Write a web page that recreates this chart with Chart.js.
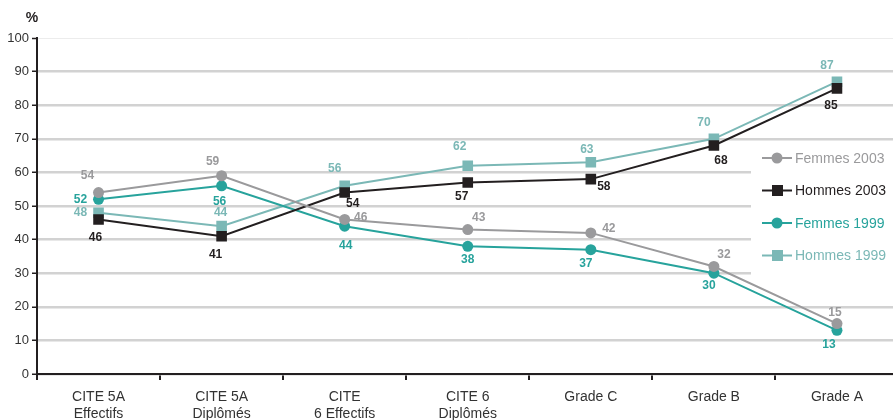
<!DOCTYPE html>
<html>
<head>
<meta charset="utf-8">
<script src="https://cdn.jsdelivr.net/npm/chart.js@4.4.1/dist/chart.umd.min.js"></script>
<style>
  html, body { margin: 0; padding: 0; background: #fff; overflow: hidden; }
  #wrap { width: 893px; height: 420px; overflow: hidden; position: relative; }
  canvas { display: block; }
</style>
</head>
<body>
<div id="wrap"><canvas id="chart" width="906" height="420"></canvas></div>
<script>
// categories and series values
const categories = [
    ["CITE 5A", "Effectifs"],
    ["CITE 5A", "Diplômés"],
    ["CITE", "6 Effectifs"],
    ["CITE 6", "Diplômés"],
    "Grade C",
    "Grade B",
    "Grade A"
];
const femmes2003 = [54, 59, 46, 43, 42, 32, 15];
const hommes2003 = [46, 41, 54, 57, 58, 68, 85];
const femmes1999 = [52, 56, 44, 38, 37, 30, 13];
const hommes1999 = [48, 44, 56, 62, 63, 70, 87];
const yTicks = [0, 10, 20, 30, 40, 50, 60, 70, 80, 90, 100];

// where each value label sits relative to its point [dx, dy]
const labelOffsets = [
    [[-11, -17], [-9, -14], [16, -2], [11, -12], [18, -4], [10, -12], [-2, -11]],
    [[-3, 18], [-6, 18], [8, 11], [-6, 14], [13, 8], [7, 15], [-6, 17]],
    [[-18, 0], [-2, 16], [1, 20], [0, 13], [-5, 14], [-5, 12], [-8, 14]],
    [[-18, 0], [-1, -13], [-10, -17], [-8, -19], [-4, -13], [-10, -16], [-10, -16]]
];

const colors = ["#9a9a9c", "#231f20", "#27a39c", "#7bb8b6"];
const FONT = "'Liberation Sans', Arial, sans-serif";

function makeSet(label, data, color, style) {
    return {
        label: label,
        data: data,
        borderColor: color,
        backgroundColor: color,
        borderWidth: 2,
        pointStyle: style,
        pointRadius: style === "rect" ? 7.5 : 5.5,
        pointHoverRadius: style === "rect" ? 7.5 : 5.5,
        pointBorderWidth: 0,
        tension: 0
    };
}

const valueLabels = {
    id: "valueLabels",
    afterDatasetsDraw(chart) {
        const ctx = chart.ctx;
        ctx.save();
        ctx.font = "bold 12px " + FONT;
        ctx.textAlign = "center";
        ctx.textBaseline = "middle";
        chart.data.datasets.forEach((ds, di) => {
            const meta = chart.getDatasetMeta(di);
            meta.data.forEach((pt, i) => {
                const off = labelOffsets[di][i];
                ctx.fillStyle = ds.borderColor;
                ctx.fillText(String(ds.data[i]), pt.x + off[0], pt.y + off[1]);
            });
        });
        ctx.restore();
    }
};

const extras = {
    id: "extras",
    afterDraw(chart) {
        const ctx = chart.ctx;
        ctx.save();
        // unit label
        ctx.font = "bold 14px " + FONT;
        ctx.fillStyle = "#231f20";
        ctx.textAlign = "center";
        ctx.textBaseline = "middle";
        ctx.fillText("%", 32, 18);

        // legend box
        ctx.fillStyle = "#fff";
        ctx.fillRect(751, 143, 160, 132);
        ctx.font = "14px " + FONT;
        ctx.textAlign = "left";
        chart.data.datasets.forEach((ds, i) => {
            const y = 158 + i * 32.5;
            ctx.strokeStyle = ds.borderColor;
            ctx.lineWidth = 2;
            ctx.beginPath();
            ctx.moveTo(762, y);
            ctx.lineTo(792, y);
            ctx.stroke();
            ctx.fillStyle = ds.borderColor;
            if (ds.pointStyle === "rect") {
                ctx.fillRect(772, y - 5.5, 11, 11);
            } else {
                ctx.beginPath();
                ctx.arc(777, y, 5.5, 0, Math.PI * 2);
                ctx.fill();
            }
            ctx.fillText(ds.label, 795, y + 1);
        });
        ctx.restore();
    }
};

new Chart(document.getElementById("chart"), {
    type: "line",
    data: {
        labels: categories,
        datasets: [
            makeSet("Femmes 2003", femmes2003, colors[0], "circle"),
            makeSet("Hommes 2003", hommes2003, colors[1], "rect"),
            makeSet("Femmes 1999", femmes1999, colors[2], "circle"),
            makeSet("Hommes 1999", hommes1999, colors[3], "rect")
        ]
    },
    options: {
        responsive: false,
        animation: false,
        layout: { padding: { top: 38, left: 0, right: 1, bottom: 0 } },
        plugins: {
            legend: { display: false },
            tooltip: { enabled: false }
        },
        scales: {
            x: {
                offset: true,
                afterFit: s => { s.height = 46; },
                grid: {
                    offset: true,
                    drawOnChartArea: false,
                    tickLength: 6,
                    color: "#231f20",
                    lineWidth: 2
                },
                border: { color: "#231f20", width: 2 },
                ticks: {
                    color: "#333",
                    padding: 8,
                    maxRotation: 0,
                    autoSkip: false,
                    font: { family: FONT, size: 14, lineHeight: 1.25 }
                }
            },
            y: {
                min: 0,
                max: 100,
                afterFit: s => { s.width = 37; },
                afterBuildTicks: s => { s.ticks = yTicks.map(v => ({ value: v })); },
                grid: {
                    color: c => c.tick && c.tick.value === 100 ? "#ececec" : "#d2d2d2",
                    lineWidth: c => c.tick && c.tick.value === 100 ? 1 : 2.5,
                    tickColor: "#231f20",
                    tickLength: 5,
                    tickWidth: 1.5
                },
                border: { color: "#231f20", width: 2 },
                ticks: {
                    color: "#333",
                    padding: 3,
                    font: { family: FONT, size: 13 }
                }
            }
        }
    },
    plugins: [valueLabels, extras]
});
</script>
</body>
</html>
